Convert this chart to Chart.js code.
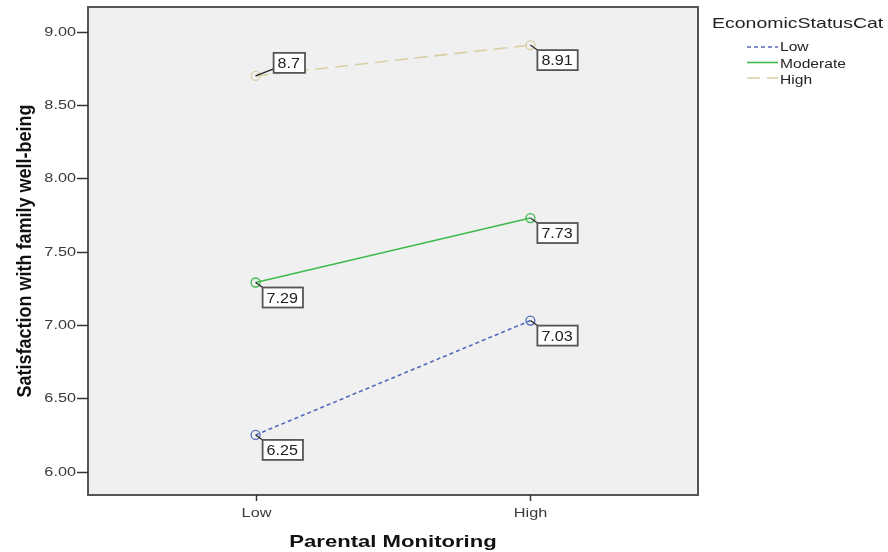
<!DOCTYPE html>
<html>
<head>
<meta charset="utf-8">
<script src="https://cdn.jsdelivr.net/npm/chart.js@4.4.0/dist/chart.umd.min.js"></script>
<style>
  html, body { margin: 0; padding: 0; background: #fff; }
  #wrap { width: 888px; height: 552px; position: relative; }
</style>
</head>
<body>
<div id="wrap"><canvas id="chart" width="888" height="552"></canvas></div>
<script>
// Data
const categories = ['Low', 'High'];
const seriesNames = ['Low', 'Moderate', 'High'];
const lowValues = [6.25, 7.03];
const moderateValues = [7.29, 7.73];
const highValues = [8.70, 8.91];
const yTicks = [6.00, 6.50, 7.00, 7.50, 8.00, 8.50, 9.00];

const seriesColors = ['#5568bd', '#3dbb4c', '#d8d0a4'];
const seriesDash = [[4, 3], [], [13, 7]];

// text in the source image is stretched sideways, so draw it that way too
const SX = 1.3;
const FONT = '"Liberation Sans", Arial, sans-serif';

function wideText(ctx, text, x, y, align, sx) {
  const s = sx || SX;
  const w = ctx.measureText(text).width * s;
  let left = x;
  if (align === 'center') left = x - w / 2;
  if (align === 'right') left = x - w;
  ctx.save();
  ctx.translate(left, y);
  ctx.scale(s, 1);
  ctx.textAlign = 'left';
  ctx.fillText(text, 0, 0);
  ctx.restore();
  return w;
}

function toPoints(values) {
  return values.map((v, i) => ({ x: i, y: v }));
}

// Function to build a dataset for one status group
function makeDataset(name, values, idx) {
  return {
    label: name,
    data: toPoints(values),
    borderColor: seriesColors[idx],
    borderWidth: 1.6,
    borderDash: seriesDash[idx],
    pointRadius: 4.5,
    pointBorderWidth: 1.3,
    pointBackgroundColor: 'rgba(0,0,0,0)',
    pointBorderColor: seriesColors[idx],
    fill: false,
    tension: 0
  };
}

// Plot background, frame, ticks and axis titles
const framePlugin = {
  id: 'frame',
  beforeDraw(chart) {
    const { ctx, chartArea: a } = chart;
    ctx.save();
    ctx.fillStyle = '#f0f0f0';
    ctx.fillRect(a.left, a.top, a.right - a.left, a.bottom - a.top);
    ctx.restore();
  },
  afterDraw(chart) {
    const { ctx, chartArea: a } = chart;
    const xs = chart.scales.x, ys = chart.scales.y;
    ctx.save();
    ctx.strokeStyle = '#555';
    ctx.lineWidth = 2;
    ctx.strokeRect(a.left, a.top, a.right - a.left, a.bottom - a.top);

    // y ticks
    ctx.strokeStyle = '#333';
    ctx.lineWidth = 1.5;
    ctx.fillStyle = '#3a3a3a';
    ctx.font = '12.5px ' + FONT;
    ctx.textBaseline = 'middle';
    yTicks.forEach(v => {
      const y = Math.round(ys.getPixelForValue(v)) + 0.5;
      ctx.beginPath();
      ctx.moveTo(a.left - 11, y);
      ctx.lineTo(a.left, y);
      ctx.stroke();
      wideText(ctx, v.toFixed(2), a.left - 12, y + 0.5, 'right');
    });

    // x ticks
    categories.forEach((c, i) => {
      const x = Math.round(xs.getPixelForValue(i)) + 0.5;
      ctx.beginPath();
      ctx.moveTo(x, a.bottom);
      ctx.lineTo(x, a.bottom + 6);
      ctx.stroke();
      wideText(ctx, c, x, a.bottom + 19, 'center');
    });

    // axis titles
    ctx.fillStyle = '#111';
    ctx.font = 'bold 17px ' + FONT;
    ctx.textBaseline = 'alphabetic';
    wideText(ctx, 'Parental Monitoring', (a.left + a.right) / 2, 547, 'center');

    ctx.save();
    ctx.translate(31, (a.top + a.bottom) / 2);
    ctx.scale(1.15, 1);
    ctx.rotate(-Math.PI / 2);
    ctx.font = 'bold 18px ' + FONT;
    ctx.textAlign = 'center';
    ctx.fillText('Satisfaction with family well-being', 0, 0);
    ctx.restore();
    ctx.restore();
  }
};

// Boxed value labels with leader lines
const valueLabelPlugin = {
  id: 'valueLabels',
  afterDatasetsDraw(chart) {
    const ctx = chart.ctx;
    ctx.save();
    ctx.font = '14px ' + FONT;
    ctx.textBaseline = 'alphabetic';
    chart.data.datasets.forEach((ds, di) => {
      const meta = chart.getDatasetMeta(di);
      meta.data.forEach((pt, i) => {
        const v = ds.data[i].y;
        const text = (Math.round(v * 100) / 100).toString();
        const w = ctx.measureText(text).width * 1.15 + 9;
        const h = 20;
        let bx, by, cx, cy;
        if (di === 2 && i === 0) {
          bx = pt.x + 18; by = pt.y - 23; cx = bx; cy = by + h - 4;
        } else {
          bx = pt.x + 7; by = pt.y + 5; cx = bx; cy = by;
        }
        ctx.strokeStyle = '#222';
        ctx.lineWidth = 1.2;
        ctx.beginPath();
        ctx.moveTo(pt.x, pt.y);
        ctx.lineTo(cx, cy);
        ctx.stroke();
        ctx.fillStyle = '#fff';
        ctx.fillRect(bx, by, w, h);
        ctx.strokeStyle = '#555';
        ctx.lineWidth = 1.8;
        ctx.strokeRect(bx, by, w, h);
        ctx.fillStyle = '#222';
        wideText(ctx, text, bx + 4, by + 15, 'left', 1.15);
      });
    });
    ctx.restore();
  }
};

// Legend drawn to the right of the plot
const legendPlugin = {
  id: 'sideLegend',
  afterDraw(chart) {
    const ctx = chart.ctx;
    const a = chart.chartArea;
    ctx.save();
    ctx.fillStyle = '#222';
    ctx.textBaseline = 'alphabetic';
    ctx.font = '15px ' + FONT;
    wideText(ctx, 'EconomicStatusCat', a.right + 14, 28, 'left');
    ctx.font = '12px ' + FONT;
    ctx.textBaseline = 'middle';
    seriesNames.forEach((name, i) => {
      const ly = 47 + i * 15.5;
      ctx.strokeStyle = seriesColors[i];
      ctx.lineWidth = 1.6;
      ctx.setLineDash(seriesDash[i]);
      ctx.beginPath();
      ctx.moveTo(a.right + 49, ly);
      ctx.lineTo(a.right + 80, ly);
      ctx.stroke();
      ctx.setLineDash([]);
      ctx.fillStyle = '#222';
      wideText(ctx, name, a.right + 82, 48 + i * 16.5, 'left');
    });
    ctx.restore();
  }
};

const ctx = document.getElementById('chart').getContext('2d');
new Chart(ctx, {
  type: 'line',
  data: {
    datasets: [
      makeDataset(seriesNames[0], lowValues, 0),
      makeDataset(seriesNames[1], moderateValues, 1),
      makeDataset(seriesNames[2], highValues, 2)
    ]
  },
  options: {
    responsive: false,
    animation: false,
    layout: { padding: { top: 7, right: 190, left: 0, bottom: 0 } },
    plugins: {
      legend: { display: false },
      tooltip: { enabled: false }
    },
    scales: {
      x: {
        type: 'linear',
        min: -0.61,
        max: 1.61,
        afterBuildTicks: axis => { axis.ticks = categories.map((c, i) => ({ value: i })); },
        afterFit: axis => { axis.height = 57; },
        ticks: { display: false },
        grid: { display: false },
        border: { display: false }
      },
      y: {
        min: 5.84,
        max: 9.17,
        afterBuildTicks: axis => { axis.ticks = yTicks.map(v => ({ value: v })); },
        afterFit: axis => { axis.width = 88; },
        ticks: { display: false },
        grid: { display: false },
        border: { display: false }
      }
    }
  },
  plugins: [framePlugin, valueLabelPlugin, legendPlugin]
});
</script>
</body>
</html>
